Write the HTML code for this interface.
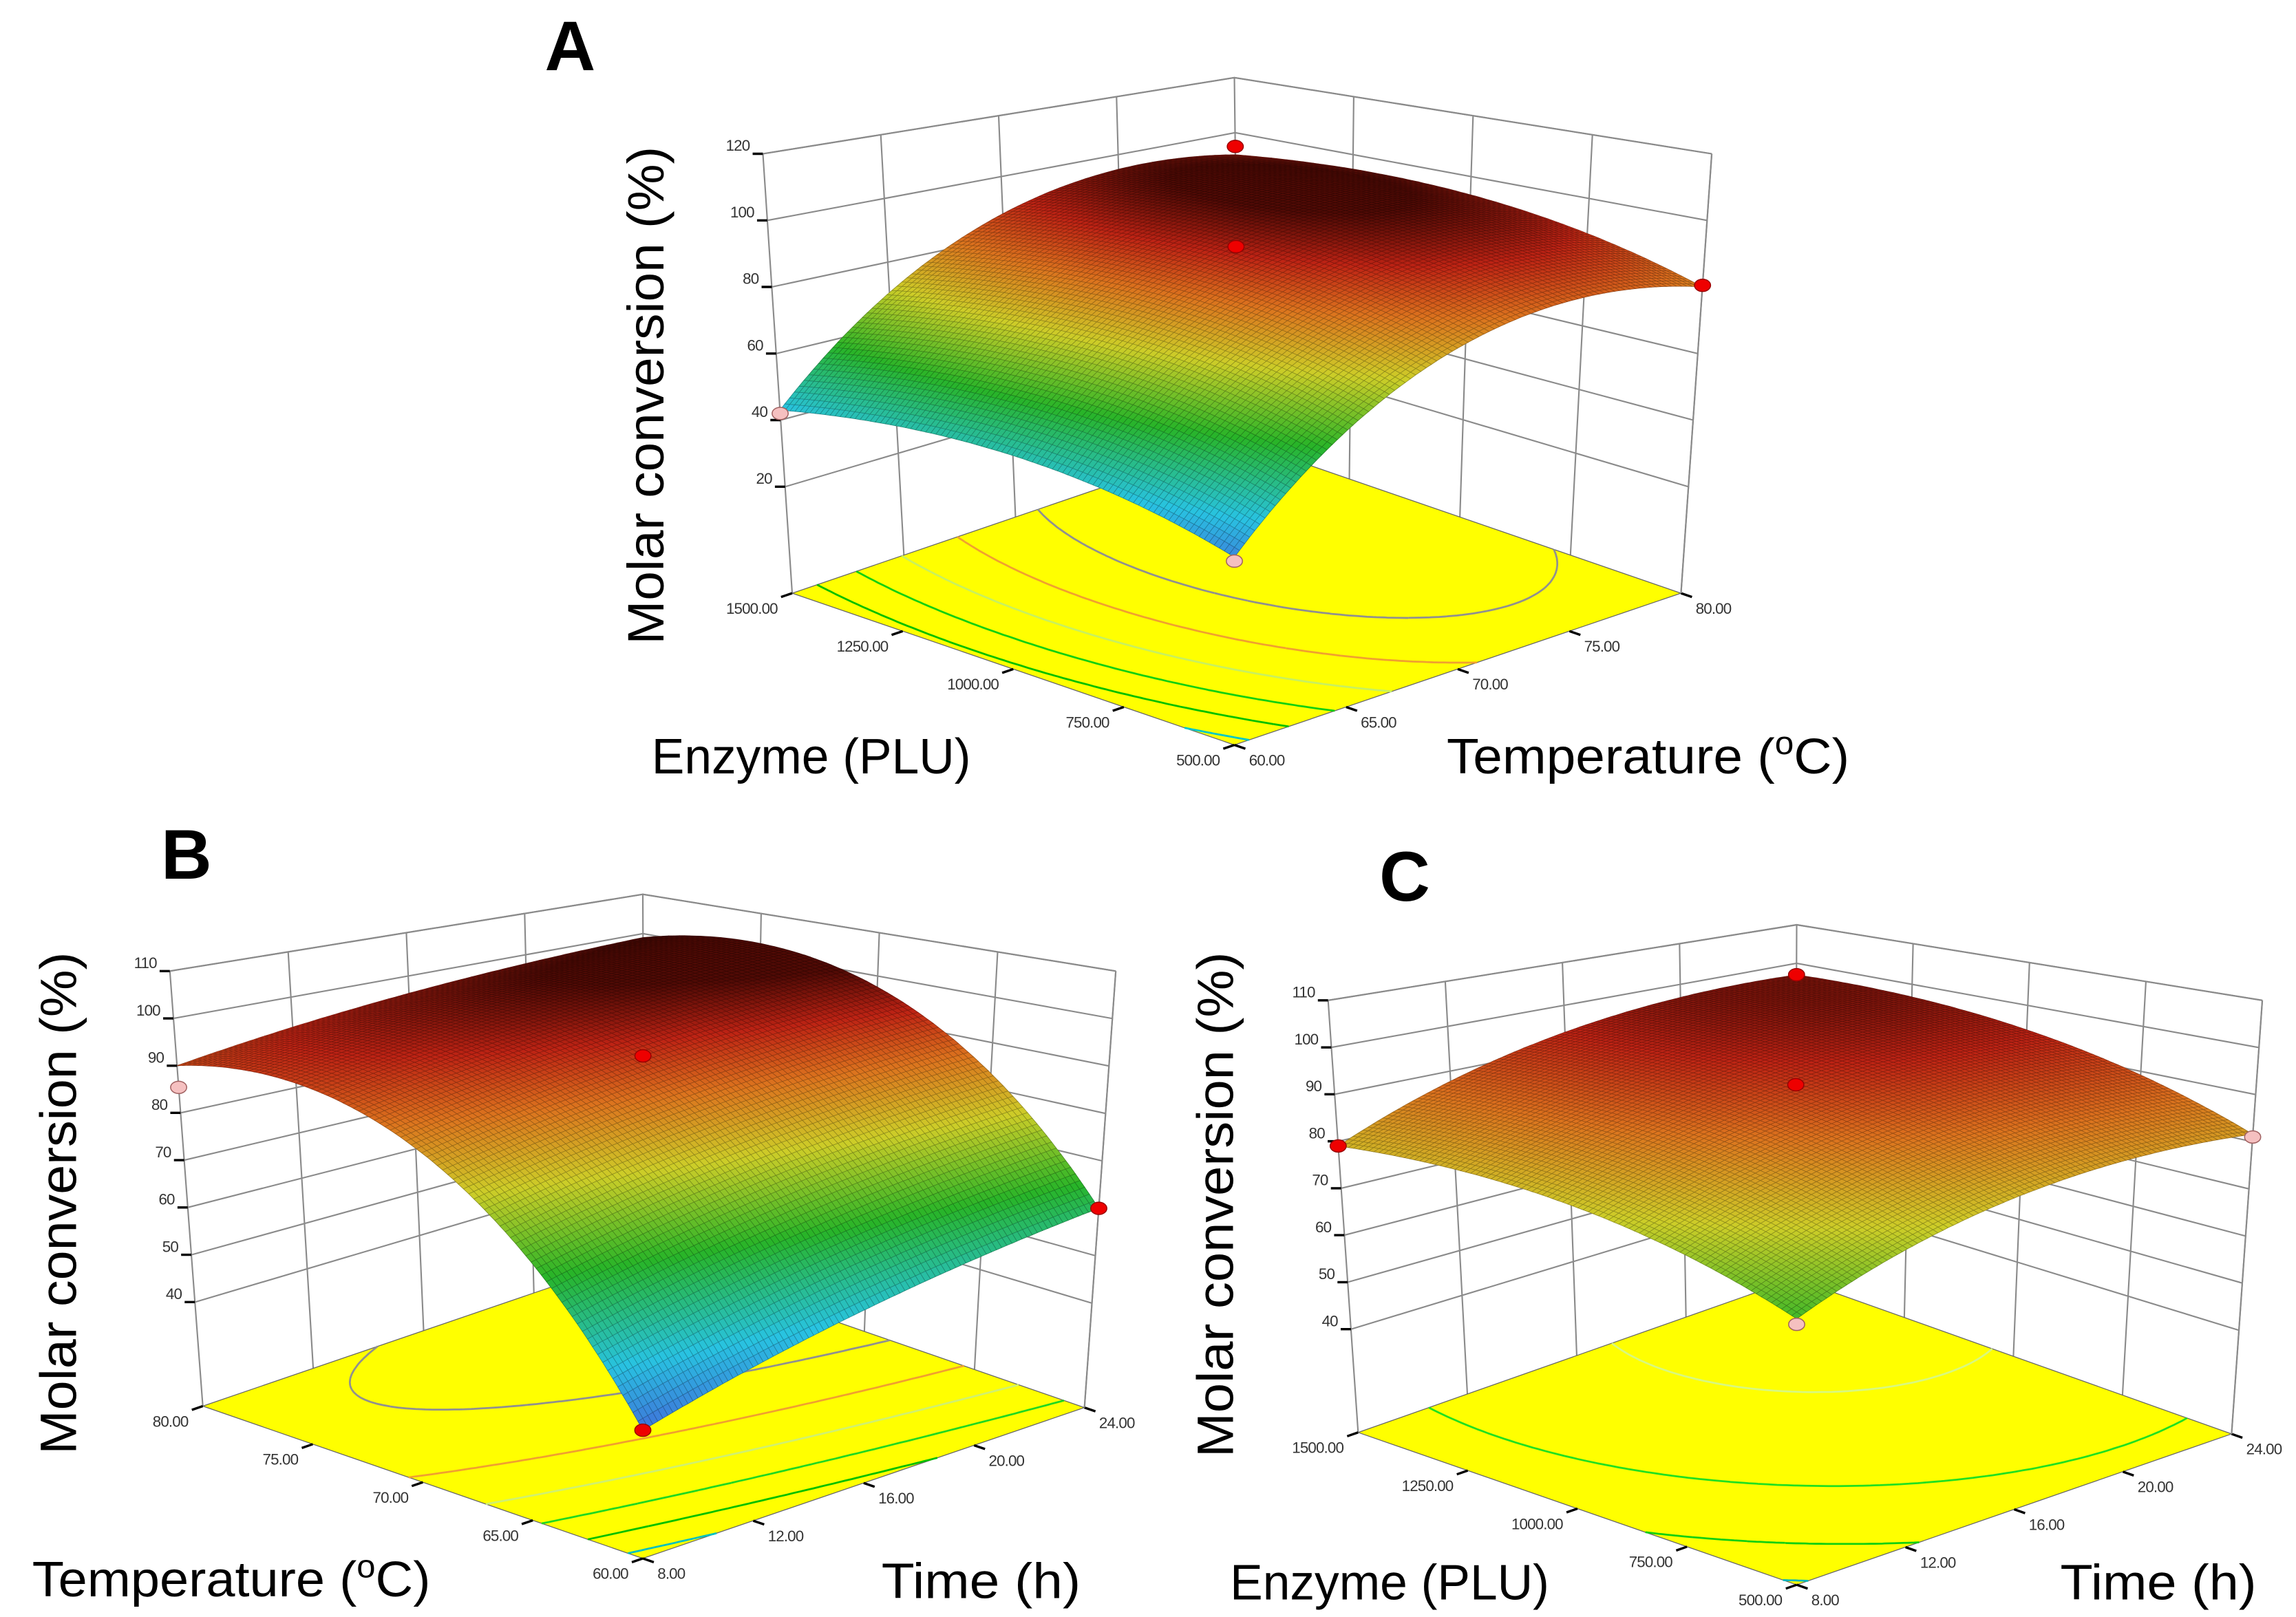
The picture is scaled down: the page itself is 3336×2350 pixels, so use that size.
<!DOCTYPE html>
<html><head><meta charset="utf-8"><title>Response surface plots A, B, C</title>
<style>html,body{margin:0;padding:0;background:#fff;}svg{display:block;}</style></head>
<body>
<svg id="fig" xmlns="http://www.w3.org/2000/svg" width="3336" height="2350" viewBox="0 0 1568 1104" preserveAspectRatio="none" font-family="'Liberation Sans', sans-serif">
<rect x="0" y="0" width="1568" height="1104" fill="#fff"/>
<g id="plotA"></g>
<g id="plotB"></g>
<g id="plotC"></g>
<text x="372" y="48" font-size="48" font-weight="bold">A</text>
<text x="110" y="600" font-size="48" font-weight="bold">B</text>
<text x="942" y="615" font-size="48" font-weight="bold">C</text>
<text transform="translate(453,440) rotate(-90)" font-size="35" textLength="340" lengthAdjust="spacingAndGlyphs">Molar conversion (%)</text>
<text x="445" y="528" font-size="34" textLength="218" lengthAdjust="spacingAndGlyphs">Enzyme (PLU)</text>
<text x="988" y="528" font-size="34" textLength="275" lengthAdjust="spacingAndGlyphs">Temperature (<tspan font-size="22" dy="-13">o</tspan><tspan dy="13">C)</tspan></text>
<text transform="translate(52,993) rotate(-90)" font-size="35" textLength="343" lengthAdjust="spacingAndGlyphs">Molar conversion (%)</text>
<text x="22" y="1090" font-size="34" textLength="272" lengthAdjust="spacingAndGlyphs">Temperature (<tspan font-size="22" dy="-13">o</tspan><tspan dy="13">C)</tspan></text>
<text x="602" y="1091" font-size="34" textLength="136" lengthAdjust="spacingAndGlyphs">Time (h)</text>
<text transform="translate(842,995) rotate(-90)" font-size="35" textLength="345" lengthAdjust="spacingAndGlyphs">Molar conversion (%)</text>
<text x="840" y="1092" font-size="34" textLength="218" lengthAdjust="spacingAndGlyphs">Enzyme (PLU)</text>
<text x="1407" y="1092" font-size="34" textLength="134" lengthAdjust="spacingAndGlyphs">Time (h)</text>
</svg>
<script>
// ---------- data ----------
// quadratic model coefficients [b0, b1(first var), b2(second var), b12, b11, b22] in coded units
const coefA = [91, 4.75, 23.25, 1.25, -8, -20.25];
const coefB = [92, 22, 7, -2.5, -18, -1.5];
const coefC = [91.6, 7.1, 8.4, 0.6, -5, -5.7];
// axis tick labels
const zTicksA = [20, 40, 60, 80, 100, 120];
const zTicksB = [40, 50, 60, 70, 80, 90, 100, 110];
const zTicksC = [40, 50, 60, 70, 80, 90, 100, 110];
const enzymeTicks = [500, 750, 1000, 1250, 1500];
const tempTicks = [60, 65, 70, 75, 80];
const timeTicks = [8, 12, 16, 20, 24];
// design points: first var, second var, response, above surface?
const ptsA_x = [500, 1500, 500, 1500, 1000];
const ptsA_y = [60, 60, 80, 80, 70];
const ptsA_z = [35, 42, 80.5, 95, 92];
const ptsA_up = [0, 0, 1, 1, 1];
const ptsB_x = [60, 80, 60, 70];
const ptsB_y = [8, 8, 24, 16];
const ptsB_z = [41, 85.4, 60, 92];
const ptsB_up = [1, 0, 1, 1];
const ptsC_x = [500, 1500, 500, 1500, 1000];
const ptsC_y = [8, 8, 24, 24, 16];
const ptsC_z = [65, 79, 81, 97, 92];
const ptsC_up = [0, 1, 0, 1, 1];
// contour levels on the floor
const levelsA = [40, 50, 60, 70, 80, 90];
const levelColorsA = ['#00c8c8', '#00c000', '#10d010', '#c8f060', '#f0a030', '#909090'];
const levelsB = [45, 55, 65, 75, 85, 95];
const levelColorsB = ['#00c0c0', '#00c000', '#20d820', '#d0f070', '#f0a030', '#909090'];
const levelsC = [67, 75, 85, 95];
const levelColorsC = ['#00b8b8', '#10d010', '#20e020', '#d8f880'];

// ---------- geometry ----------
const plots = [
 {id:'plotA', key:'a', coef:coefA, zTicks:zTicksA, aTicks:enzymeTicks, bTicks:tempTicks,
  zmin:-12, zmax:120, cLo:30, cHi:97,
  floor:{F:[843,508.6],L:[541,405],R:[1148,405],B:[846,301]},
  top:{F:[843,156],L:[521,105],R:[1169,105],B:[843,53]},
  px:ptsA_x, py:ptsA_y, pz:ptsA_z, pu:ptsA_up, levels:levelsA, lcols:levelColorsA},
 {id:'plotB', key:'b', coef:coefB, zTicks:zTicksB, aTicks:tempTicks, bTicks:timeTicks,
  zmin:18, zmax:110, cLo:38, cHi:100,
  floor:{F:[439,1064],L:[138.5,960],R:[740.6,961],B:[440,857]},
  top:{F:[439,714],L:[116,663],R:[762,663],B:[439,610.6]},
  px:ptsB_x, py:ptsB_y, pz:ptsB_z, pu:ptsB_up, levels:levelsB, lcols:levelColorsB},
 {id:'plotC', key:'c', coef:coefC, zTicks:zTicksC, aTicks:enzymeTicks, bTicks:timeTicks,
  zmin:18, zmax:110, cLo:38, cHi:100,
  floor:{F:[1227,1082],L:[927.5,978],R:[1524,979],B:[1226,873]},
  top:{F:[1227,734],L:[907,683],R:[1545,683],B:[1227,631.4]},
  px:ptsC_x, py:ptsC_y, pz:ptsC_z, pu:ptsC_up, levels:levelsC, lcols:levelColorsC}
];
const NS = 'http://www.w3.org/2000/svg';
function bil(P, a, b){
  return [(1-a)*(1-b)*P.F[0]+a*(1-b)*P.L[0]+(1-a)*b*P.R[0]+a*b*P.B[0],
          (1-a)*(1-b)*P.F[1]+a*(1-b)*P.L[1]+(1-a)*b*P.R[1]+a*b*P.B[1]];
}
function pos(p, a, b, z){
  const f = bil(p.floor,a,b), t = bil(p.top,a,b), k = (z-p.zmin)/(p.zmax-p.zmin);
  return [f[0]+k*(t[0]-f[0]), f[1]+k*(t[1]-f[1])];
}
function model(p, a, b){
  const u = 2*a-1, v = 2*b-1, c = p.coef;
  return c[0]+c[1]*u+c[2]*v+c[3]*u*v+c[4]*u*u+c[5]*v*v;
}
const stops = [[0,[70,90,215]],[0.2,[40,195,225]],[0.42,[40,180,40]],[0.62,[205,205,40]],[0.78,[220,115,30]],[0.9,[190,35,20]],[1,[80,10,5]]];
function cmap(t){
  t = Math.max(0, Math.min(1, t));
  for (let i=1;i<stops.length;i++){
    if (t <= stops[i][0]){
      const s0=stops[i-1], s1=stops[i], k=(t-s0[0])/(s1[0]-s0[0]);
      return [0,1,2].map(j=>Math.round(s0[1][j]+k*(s1[1][j]-s0[1][j])));
    }
  }
  return stops[stops.length-1][1];
}
function P(pt){ return pt[0].toFixed(1)+','+pt[1].toFixed(1); }
function mk(tag, attrs, parent){
  const el = document.createElementNS(NS, tag);
  for (const k in attrs) el.setAttribute(k, attrs[k]);
  parent.appendChild(el);
  return el;
}

plots.forEach(p => {
  const g = document.getElementById(p.id);
  const aMin = p.aTicks[0], aMax = p.aTicks[p.aTicks.length-1];
  const bMin = p.bTicks[0], bMax = p.bTicks[p.bTicks.length-1];
  const A = v => (v-aMin)/(aMax-aMin), B = v => (v-bMin)/(bMax-bMin);

  // back walls
  const walls = mk('g', {}, g);
  
  
  let d = '';
  p.bTicks.forEach(t => { d += 'M'+P(pos(p,1,B(t),p.zmin))+'L'+P(pos(p,1,B(t),p.zmax)); });
  p.aTicks.forEach(t => { d += 'M'+P(pos(p,A(t),1,p.zmin))+'L'+P(pos(p,A(t),1,p.zmax)); });
  p.zTicks.concat([p.zmax]).forEach(z => { d += 'M'+P(pos(p,1,0,z))+'L'+P(pos(p,1,1,z))+'L'+P(pos(p,0,1,z)); });
  d += 'M'+P(pos(p,1,0,p.zmin))+'L'+P(pos(p,1,0,p.zmax));
  mk('path', {d:d, stroke:'#8a8a8a', 'stroke-width':'1', fill:'none'}, walls);

  // floor
  const floor = mk('path', {d:'M'+P(p.floor.F)+'L'+P(p.floor.L)+'L'+P(p.floor.B)+'L'+P(p.floor.R)+'Z', fill:'#ffff00', stroke:'#666', 'stroke-width':'0.6'}, g);
  
  

  // contours (marching squares)
  const N = 80;
  const vals = [];
  for (let i=0;i<=N;i++){ vals.push([]); for (let j=0;j<=N;j++) vals[i].push(model(p,i/N,j/N)); }
  p.levels.forEach((lv, li) => {
    let cd = '';
    for (let i=0;i<N;i++) for (let j=0;j<N;j++){
      const c = [[i,j],[i+1,j],[i+1,j+1],[i,j+1]];
      const pts = [];
      for (let k=0;k<4;k++){
        const p0=c[k], p1=c[(k+1)%4];
        const v0=vals[p0[0]][p0[1]], v1=vals[p1[0]][p1[1]];
        if ((v0<lv)!==(v1<lv)){
          const t=(lv-v0)/(v1-v0);
          pts.push([(p0[0]+t*(p1[0]-p0[0]))/N,(p0[1]+t*(p1[1]-p0[1]))/N]);
        }
      }
      for (let k=0;k+1<pts.length;k+=2)
        cd += 'M'+P(pos(p,pts[k][0],pts[k][1],p.zmin))+'L'+P(pos(p,pts[k+1][0],pts[k+1][1],p.zmin));
    }
    if (cd){
      const cl = mk('path', {d:cd, stroke:p.lcols[li], 'stroke-width':'1.3', fill:'none'}, g);
      
      
    }
  });

  // floor axis ticks and labels
  const axes = mk('g', {'font-size':'10.5', fill:'#333'}, g);
  
  
  let td = '';
  p.aTicks.forEach(t => {
    const q = pos(p,A(t),0,p.zmin), q2 = pos(p,A(t),-0.025,p.zmin);
    td += 'M'+P(q)+'L'+P(q2);
    const tx = mk('text', {x:(q[0]-10).toFixed(1), y:(q[1]+14).toFixed(1), 'text-anchor':'end', 'letter-spacing':'-0.4'}, axes);
    tx.textContent = t.toFixed(2);
    
    
  });
  p.bTicks.forEach(t => {
    const q = pos(p,0,B(t),p.zmin), q2 = pos(p,-0.025,B(t),p.zmin);
    td += 'M'+P(q)+'L'+P(q2);
    const tx = mk('text', {x:(q[0]+10).toFixed(1), y:(q[1]+14).toFixed(1), 'text-anchor':'start', 'letter-spacing':'-0.4'}, axes);
    tx.textContent = t.toFixed(2);
    
    
  });
  p.zTicks.forEach(z => {
    const q = pos(p,1,0,z);
    td += 'M'+P(q)+'L'+(q[0]-7).toFixed(1)+','+q[1].toFixed(1);
    const tx = mk('text', {x:(q[0]-9).toFixed(1), y:(q[1]-2).toFixed(1), 'text-anchor':'end', 'letter-spacing':'-0.4'}, axes);
    tx.textContent = String(z);
    
    
  });
  mk('path', {d:td, stroke:'#000', 'stroke-width':'1.6', fill:'none'}, axes);

  // surface
  const surf = mk('g', {}, g);
  
  
  const M = 90, cells = [];
  for (let i=0;i<M;i++) for (let j=0;j<M;j++) cells.push([i,j]);
  cells.sort((c1,c2) => (c2[0]+c2[1]) - (c1[0]+c1[1]));
  let frag = '';
  cells.forEach(([i,j]) => {
    const a0=i/M, a1=(i+1)/M, b0=j/M, b1=(j+1)/M;
    const z00=model(p,a0,b0), z10=model(p,a1,b0), z11=model(p,a1,b1), z01=model(p,a0,b1);
    const zc=(z00+z10+z11+z01)/4;
    const col = cmap((zc-p.cLo)/(p.cHi-p.cLo));
    const dk = col.map(v=>Math.round(v*0.68));
    frag += '<path d="M'+P(pos(p,a0,b0,z00))+'L'+P(pos(p,a1,b0,z10))+'L'+P(pos(p,a1,b1,z11))+'L'+P(pos(p,a0,b1,z01))+'Z" fill="rgb('+col.join(',')+')" stroke="rgb('+dk.join(',')+')" stroke-width="0.35"/>';
  });
  surf.innerHTML = frag;

  // box back edges on top
  const edges = mk('path', {d:'M'+P(pos(p,1,0,p.zmax))+'L'+P(pos(p,1,1,p.zmax))+'L'+P(pos(p,0,1,p.zmax))+'M'+P(pos(p,0,1,p.zmin))+'L'+P(pos(p,0,1,p.zmax)), stroke:'#8a8a8a', 'stroke-width':'1', fill:'none'}, g);
  
  

  // design points
  p.px.forEach((xv, k) => {
    const q = pos(p, A(xv), B(p.py[k]), p.pz[k]);
    const c = mk('ellipse', {cx:q[0].toFixed(1), cy:q[1].toFixed(1), rx:'5.5', ry:'4.2',
      fill: p.pu[k] ? '#ee0000' : '#f5c0c0', stroke: p.pu[k] ? '#900' : '#a06060', 'stroke-width':'0.7'}, g);
    
    
  });
});
</script>
</body></html>
